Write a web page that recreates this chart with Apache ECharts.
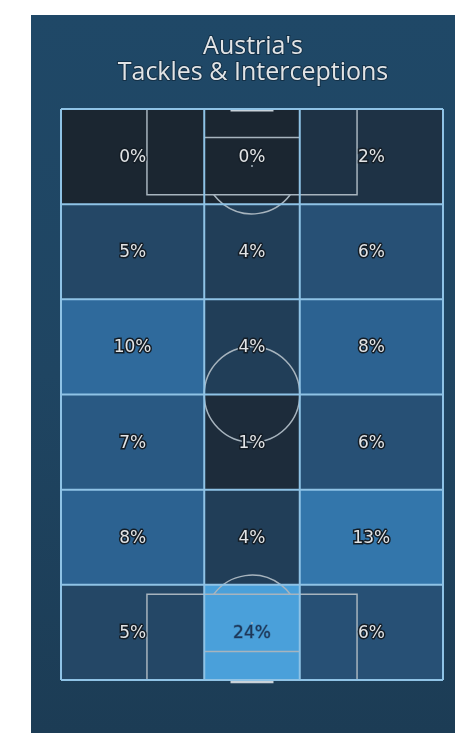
<!DOCTYPE html>
<html><head><meta charset="utf-8">
<script src="https://cdn.jsdelivr.net/npm/echarts@6/dist/echarts.min.js"></script>
<style>
html,body{margin:0;padding:0;background:#ffffff;width:455px;height:733px;overflow:hidden;}
#panel{position:absolute;left:31px;top:15px;width:424px;height:718px;background:linear-gradient(180deg,#1f4867 0%,#1f4562 50%,#1c3c55 100%);}
#c{position:absolute;left:0;top:0;width:455px;height:733px;}
</style>
</head><body><div id="panel"></div><div id="c"></div>
<script>
// ---- data ----
const titleLines = ["Austria's", "Tackles & Interceptions"];
const zoneXEdges = [0, 30, 50, 80];                 // width bins (pitch 80 wide)
const zoneYEdges = [0, 20, 40, 60, 80, 100, 120];   // length bins (pitch 120 long)
const leftZone   = [0, 5, 10, 7, 8, 5];   // % per zone, top to bottom
const centerZone = [0, 4, 4, 1, 4, 24];
const rightZone  = [2, 6, 8, 6, 13, 6];

const columns = [leftZone, centerZone, rightZone];
const cells = [];
columns.forEach((col, ci) => col.forEach((v, ri) => {
  cells.push([zoneXEdges[ci], zoneXEdges[ci + 1], zoneYEdges[ri], zoneYEdges[ri + 1], v]);
}));
const maxV = Math.max(...cells.map(c => c[4]));

const chart = echarts.init(document.getElementById('c'), null, {renderer: 'canvas'});

const markColor = '#a7b4be';
const zoneColor = '#8fc3e6';

function pitchRender(params, api) {
  const c = (x, y) => api.coord([x, y]);
  const r10 = api.size([10, 10])[0];
  const st = {stroke: markColor, lineWidth: 1.5, fill: null};
  const line = (a, b) => ({type: 'line', shape: {x1: a[0], y1: a[1], x2: b[0], y2: b[1]}, style: st});
  const rectEl = (x0, y0, x1, y1) => {
    const p0 = c(x0, y0), p1 = c(x1, y1);
    return {type: 'rect', shape: {x: p0[0], y: p0[1], width: p1[0] - p0[0], height: p1[1] - p0[1]}, style: st};
  };
  const th = Math.asin(6 / 10);
  const tSpot = c(40, 12), bSpot = c(40, 108), mid = c(40, 60);
  const gT0 = c(35.5, 0), gT1 = c(44.5, 0), gB0 = c(35.5, 120), gB1 = c(44.5, 120);
  return {type: 'group', children: [
    rectEl(18, 0, 62, 18),
    rectEl(18, 102, 62, 120),
    line(c(30, 6), c(50, 6)),
    line(c(30, 114), c(50, 114)),
    {type: 'arc', shape: {cx: tSpot[0], cy: tSpot[1], r: r10, startAngle: th, endAngle: Math.PI - th}, style: st},
    {type: 'arc', shape: {cx: bSpot[0], cy: bSpot[1], r: r10, startAngle: Math.PI + th, endAngle: 2 * Math.PI - th}, style: st},
    {type: 'circle', shape: {cx: mid[0], cy: mid[1], r: r10}, style: st},
    {type: 'circle', shape: {cx: tSpot[0], cy: tSpot[1], r: 1}, style: {fill: markColor}},
    {type: 'circle', shape: {cx: bSpot[0], cy: bSpot[1], r: 1}, style: {fill: markColor}},
    {type: 'line', shape: {x1: gT0[0], y1: gT0[1] + 1, x2: gT1[0], y2: gT1[1] + 1}, style: {stroke: '#c9d2d9', lineWidth: 3}},
    {type: 'line', shape: {x1: gB0[0], y1: gB0[1] + 1.5, x2: gB1[0], y2: gB1[1] + 1.5}, style: {stroke: '#c9d2d9', lineWidth: 3.5}}
  ]};
}

function zoneRender(params, api) {
  const st = {stroke: zoneColor, lineWidth: 2};
  const children = [];
  zoneXEdges.forEach(x => {
    const a = api.coord([x, 0]), b = api.coord([x, 120]);
    children.push({type: 'line', shape: {x1: a[0], y1: a[1], x2: b[0], y2: b[1]}, style: st});
  });
  zoneYEdges.forEach(y => {
    const a = api.coord([0, y]), b = api.coord([80, y]);
    children.push({type: 'line', shape: {x1: a[0], y1: a[1], x2: b[0], y2: b[1]}, style: st});
  });
  return {type: 'group', children};
}

chart.setOption({
  backgroundColor: 'transparent',
  animation: false,
  graphic: titleLines.map((t, i) => ({
    type: 'text', x: 253, y: 47 + i * 26,
    style: {text: t, fill: '#e2e4e6', font: '25px "Open Sans"', align: 'center', verticalAlign: 'middle',
            stroke: 'rgba(10,25,40,0.5)', lineWidth: 2}
  })),
  grid: {left: 61, top: 109, width: 382, height: 571},
  xAxis: {type: 'value', min: 0, max: 80, show: false},
  yAxis: {type: 'value', min: 0, max: 120, inverse: true, show: false},
  visualMap: {
    show: false, type: 'continuous', min: 0, max: maxV, dimension: 4, seriesIndex: 0,
    inRange: {color: ['#1b2631', '#213e58', '#2c6291', '#3172a6', '#3a80b8', '#428fc9', '#4aa0da']}
  },
  series: [
    {
      type: 'custom', z: 1, data: cells, encode: {x: [0, 1], y: [2, 3]},
      renderItem: (params, api) => {
        const p0 = api.coord([api.value(0), api.value(2)]);
        const p1 = api.coord([api.value(1), api.value(3)]);
        return {type: 'rect', shape: {x: p0[0], y: p0[1], width: p1[0] - p0[0], height: p1[1] - p0[1]},
                style: {fill: api.visual('color')}};
      }
    },
    {type: 'custom', z: 2, data: [[0]], renderItem: pitchRender, silent: true},
    {type: 'custom', z: 3, data: [[0]], renderItem: zoneRender, silent: true},
    {
      type: 'custom', z: 4, data: cells, encode: {x: [0, 1], y: [2, 3]},
      renderItem: (params, api) => {
        const p = api.coord([(api.value(0) + api.value(1)) / 2, (api.value(2) + api.value(3)) / 2]);
        const v = api.value(4);
        const isMax = v === maxV;
        return {type: 'text', x: p[0], y: p[1] + 1,
                style: {text: v + '%', font: '17px "DejaVu Sans"', align: 'center', verticalAlign: 'middle',
                        fill: isMax ? '#1d3658' : '#e2e4e6',
                        stroke: isMax ? 'rgba(20,30,50,0.35)' : '#141d26', lineWidth: isMax ? 1 : 3}};
      }
    }
  ]
});
</script>
</body></html>
